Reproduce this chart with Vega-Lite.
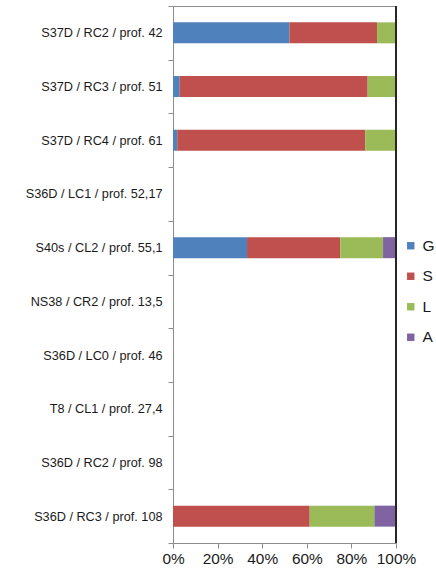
{
  "$schema": "https://vega.github.io/schema/vega-lite/v6.json",
  "autosize": {"type": "none"},
  "width": 223,
  "height": 537,
  "padding": {"left": 173, "top": 6, "right": 40, "bottom": 28},
  "background": "white",
  "config": {
    "view": {"stroke": "#8c8c8c", "strokeWidth": 1},
    "font": "Liberation Sans"
  },
  "data": {
    "values": [
      {"site": "S37D / RC2 / prof. 42", "comp": "G", "pct": 52.2},
      {"site": "S37D / RC2 / prof. 42", "comp": "S", "pct": 39.3},
      {"site": "S37D / RC2 / prof. 42", "comp": "L", "pct": 8.5},
      {"site": "S37D / RC3 / prof. 51", "comp": "G", "pct": 3.0},
      {"site": "S37D / RC3 / prof. 51", "comp": "S", "pct": 84.3},
      {"site": "S37D / RC3 / prof. 51", "comp": "L", "pct": 12.7},
      {"site": "S37D / RC4 / prof. 61", "comp": "G", "pct": 1.9},
      {"site": "S37D / RC4 / prof. 61", "comp": "S", "pct": 84.3},
      {"site": "S37D / RC4 / prof. 61", "comp": "L", "pct": 13.8},
      {"site": "S40s / CL2 / prof. 55,1", "comp": "G", "pct": 33.2},
      {"site": "S40s / CL2 / prof. 55,1", "comp": "S", "pct": 41.8},
      {"site": "S40s / CL2 / prof. 55,1", "comp": "L", "pct": 19.2},
      {"site": "S40s / CL2 / prof. 55,1", "comp": "A", "pct": 5.8},
      {"site": "S36D / RC3 / prof. 108", "comp": "S", "pct": 61.3},
      {"site": "S36D / RC3 / prof. 108", "comp": "L", "pct": 29.0},
      {"site": "S36D / RC3 / prof. 108", "comp": "A", "pct": 9.7}
    ]
  },
  "transform": [
    {"window": [{"op": "row_number", "as": "seq"}], "groupby": ["site"]}
  ],
  "layer": [
    {
      "mark": {"type": "bar", "size": 21},
      "encoding": {
        "y": {
          "field": "site",
          "type": "nominal",
          "scale": {
            "domain": [
              "S37D / RC2 / prof. 42",
              "S37D / RC3 / prof. 51",
              "S37D / RC4 / prof. 61",
              "S36D / LC1 / prof. 52,17",
              "S40s / CL2 / prof. 55,1",
              "NS38 / CR2 / prof. 13,5",
              "S36D / LC0 / prof. 46",
              "T8 / CL1 / prof. 27,4",
              "S36D / RC2 / prof. 98",
              "S36D / RC3 / prof. 108"
            ],
            "paddingInner": 0,
            "paddingOuter": 0
          },
          "axis": {
            "title": null,
            "tickBand": "extent",
            "tickSize": 5,
            "tickColor": "#8c8c8c",
            "domainColor": "#8c8c8c",
            "labelFontSize": 12.7,
            "labelColor": "#1a1a1a",
            "labelPadding": 6
          }
        },
        "x": {
          "field": "pct",
          "type": "quantitative",
          "stack": "zero",
          "scale": {"domain": [0, 100], "nice": false},
          "axis": {
            "title": null,
            "values": [0, 20, 40, 60, 80, 100],
            "labelExpr": "datum.value + '%'",
            "labelOverlap": false,
            "labelFlush": false,
            "grid": false,
            "tickSize": 5,
            "tickColor": "#8c8c8c",
            "domainColor": "#8c8c8c",
            "labelFontSize": 15.4,
            "labelColor": "#1a1a1a",
            "labelPadding": 3
          }
        },
        "order": {"field": "seq", "type": "quantitative", "sort": "ascending"},
        "color": {
          "field": "comp",
          "type": "nominal",
          "sort": ["G", "S", "L", "A"],
          "scale": {
            "domain": ["G", "S", "L", "A"],
            "range": ["#4F81BD", "#C0504D", "#9BBB59", "#8064A2"]
          },
          "legend": {
            "title": null,
            "orient": "none",
            "legendX": 230,
            "legendY": 232,
            "symbolType": "square",
            "symbolSize": 55,
            "symbolStrokeWidth": 0,
            "labelFontSize": 15.5,
            "labelColor": "#1a1a1a",
            "labelOffset": 4,
            "rowPadding": 13.5
          }
        }
      }
    },
    {
      "mark": {"type": "rule", "color": "#262626", "strokeWidth": 1},
      "encoding": {"x": {"datum": 100}}
    }
  ]
}
